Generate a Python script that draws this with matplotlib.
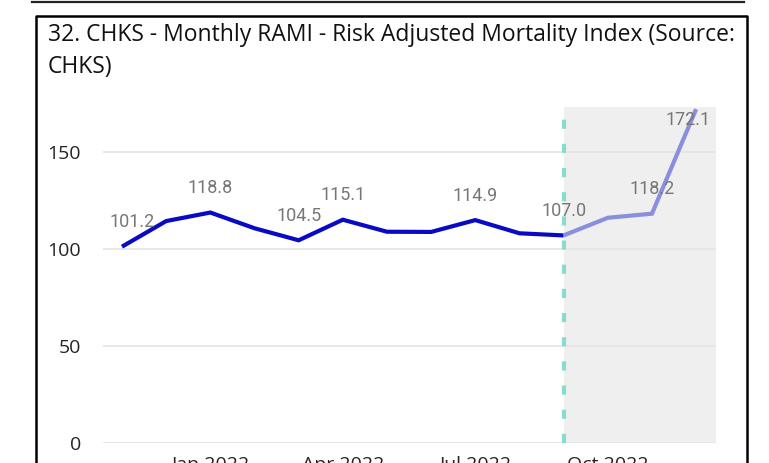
import matplotlib
matplotlib.use("Agg")
import matplotlib.pyplot as plt
from matplotlib.lines import Line2D

plt.rcParams["font.family"] = ["Open Sans", "DejaVu Sans"]

months = ["Nov 2021", "Dec 2021", "Jan 2022", "Feb 2022", "Mar 2022", "Apr 2022",
          "May 2022", "Jun 2022", "Jul 2022", "Aug 2022", "Sep 2022", "Oct 2022",
          "Nov 2022", "Dec 2022"]
rami = [101.2, 114.4, 118.8, 110.7, 104.5, 115.1, 108.9, 108.8, 114.9, 108.1,
        107.0, 116.1, 118.2, 172.1]
labelled = [0, 2, 4, 5, 8, 10, 12, 13]
split = 10  # last actual month, the rest is shaded
tick_months = ["Jan 2022", "Apr 2022", "Jul 2022", "Oct 2022"]

fig = plt.figure(figsize=(7.69, 4.63), dpi=100)
ax = fig.add_axes([103 / 769, 20 / 463, 613 / 769, 336 / 463])

x = list(range(len(months)))
ax.set_xlim(-0.43, 13.45)
ax.set_ylim(0, 173.2)

ax.axvspan(split, 13.45, color="#efefef", lw=0, zorder=0)
ax.axvline(split, color="#86dcd3", lw=3, dashes=(2.2, 3.6), zorder=2)

ax.plot(x[:split + 1], rami[:split + 1], color="#0a0ac4", lw=3,
        solid_capstyle="butt", solid_joinstyle="miter", zorder=3)
ax.plot(x[split:], rami[split:], color="#8a8ede", lw=3,
        solid_capstyle="butt", solid_joinstyle="miter", zorder=3)

for i in labelled:
    dx, dy, va = 0, 11, "bottom"
    if i == 0:
        dx = 7
    if i == len(rami) - 1:
        dx, dy, va = -6, -1, "top"
    ax.annotate(f"{rami[i]:.1f}", (i, rami[i]), xytext=(dx, dy),
                textcoords="offset points", ha="center", va=va,
                fontsize=13, color="#777777", family="Roboto", zorder=4)

ax.set_yticks([0, 50, 100, 150])
ax.set_xticks([months.index(m) for m in tick_months])
ax.set_xticklabels(tick_months)
ax.tick_params(axis="both", length=0, labelsize=14, colors="#252423")
ax.tick_params(axis="y", pad=16)
ax.tick_params(axis="x", pad=9)
ax.grid(axis="y", color="#e6e6e6", lw=1.3)
ax.set_axisbelow(True)
for s in ax.spines.values():
    s.set_visible(False)

# visual frame and top rule
fig.add_artist(Line2D([32 / 769, 744 / 769], [1 - 1.5 / 463] * 2, color="#222222", lw=1.6))
fig.add_artist(Line2D([36 / 769, 36 / 769, 747 / 769, 747 / 769],
                      [0, 1 - 16 / 463, 1 - 16 / 463, 0], color="black", lw=1.8))

fig.text(48 / 769, 1 - 23 / 463,
         "32. CHKS - Monthly RAMI - Risk Adjusted Mortality Index (Source:\nCHKS)",
         ha="left", va="top", fontsize=16.5, color="#111111",
         linespacing=1.42)

fig.savefig("out.png", dpi=100)
